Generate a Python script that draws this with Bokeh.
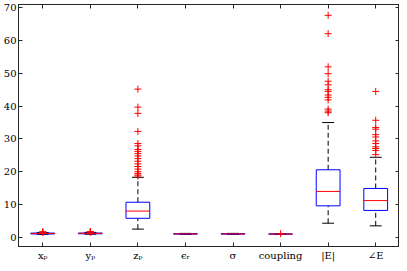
from bokeh.plotting import figure
from bokeh.models import FixedTicker, LinearAxis, Range1d, ColumnDataSource
from bokeh.embed import file_html
from bokeh.resources import INLINE

# ---- data ----
labels = ["xₚ", "yₚ", "zₚ", "ϵᵣ", "σ", "coupling", "|E|", "∠E"]
positions = [1, 2, 3, 4, 5, 6, 7, 8]
q1 = [1.02, 1.08, 5.8, 0.98, 0.98, 1.0, 9.6, 8.2]
median = [1.15, 1.2, 8.0, 1.05, 1.05, 1.0, 14.0, 11.2]
q3 = [1.3, 1.3, 10.7, 1.12, 1.12, 1.0, 20.6, 14.9]
whisker_lo = [0.9, 0.95, 2.5, 0.9, 0.9, 1.0, 4.3, 3.5]
whisker_hi = [1.45, 1.5, 18.3, 1.2, 1.2, 1.0, 35.0, 24.4]
outliers = [
    [1.5, 1.6, 1.7],
    [1.55, 1.65, 1.75],
    [18.7, 19.0, 19.5, 20.0, 20.8, 21.6, 22.4, 23.2, 24.0, 24.8, 25.5, 26.2,
     26.8, 27.9, 28.6, 32.3, 37.8, 39.7, 45.2],
    [],
    [],
    [1.1],
    [38.0, 38.5, 39.1, 41.9, 42.7, 43.4, 44.5, 45.0, 46.5, 47.6, 49.9, 52.0,
     62.1, 67.7],
    [25.2, 26.5, 27.1, 27.6, 28.6, 29.4, 30.6, 31.3, 33.0, 33.5, 35.7, 44.5],
]
y_ticks = [0, 10, 20, 30, 40, 50, 60, 70]

BOX_HALF = 0.25
CAP_HALF = 0.125
AX = "#262626"
FONT = "DejaVu Serif"

p = figure(width=399, height=263, output_backend="svg", toolbar_location=None,
           x_range=Range1d(0.49, 8.5), y_range=Range1d(-2.8, 71),
           x_axis_location=None, y_axis_location=None,
           min_border_left=0, min_border_right=0, min_border_top=4,
           min_border_bottom=0)
p.grid.visible = False
p.background_fill_color = "white"
p.border_fill_color = "white"
p.outline_line_color = AX
p.outline_line_width = 1

src = ColumnDataSource(dict(
    x=positions,
    left=[x - BOX_HALF for x in positions],
    right=[x + BOX_HALF for x in positions],
    cl=[x - CAP_HALF for x in positions],
    cr=[x + CAP_HALF for x in positions],
    q1=q1, q3=q3, med=median, lo=whisker_lo, hi=whisker_hi,
))

# whiskers
p.segment(x0="x", y0="q3", x1="x", y1="hi", source=src, line_color="black",
          line_width=1, line_dash="5 3")
p.segment(x0="x", y0="lo", x1="x", y1="q1", source=src, line_color="black",
          line_width=1, line_dash="5 3")
# caps
p.segment(x0="cl", y0="hi", x1="cr", y1="hi", source=src, line_color="black", line_width=1)
p.segment(x0="cl", y0="lo", x1="cr", y1="lo", source=src, line_color="black", line_width=1)
# boxes
p.quad(left="left", right="right", bottom="q1", top="q3", source=src,
       fill_color=None, line_color="#0000ff", line_width=1)
# medians
p.segment(x0="left", y0="med", x1="right", y1="med", source=src,
          line_color="#ff0000", line_width=1)

# outliers
ox, oy = [], []
for x, vals in zip(positions, outliers):
    for v in vals:
        ox.append(x)
        oy.append(v)
p.scatter(ox, oy, marker="cross", size=7, line_color="#ff0000", line_width=1)


def style(ax, show_labels, ticks):
    ax.axis_line_color = AX
    ax.major_tick_line_color = AX
    ax.major_tick_in = 4
    ax.major_tick_out = 0
    ax.minor_tick_line_color = None
    ax.major_label_text_font = FONT
    ax.major_label_text_font_size = "10px"
    ax.major_label_text_font_style = "normal"
    ax.major_label_text_color = "black"
    if show_labels:
        ax.major_label_standoff = 2
    else:
        ax.major_label_overrides = {t: "" for t in ticks}
        ax.major_label_standoff = 0


left = LinearAxis(ticker=FixedTicker(ticks=y_ticks))
style(left, True, y_ticks)
right = LinearAxis(ticker=FixedTicker(ticks=y_ticks))
style(right, False, y_ticks)
bottom = LinearAxis(ticker=FixedTicker(ticks=positions))
style(bottom, True, positions)
bottom.major_label_overrides = {x: lab for x, lab in zip(positions, labels)}
bottom.major_label_standoff = 3
top = LinearAxis(ticker=FixedTicker(ticks=positions))
style(top, False, positions)

p.add_layout(left, "left")
p.add_layout(right, "right")
p.add_layout(bottom, "below")
p.add_layout(top, "above")

open("out.html", "w").write(file_html(p, INLINE))
